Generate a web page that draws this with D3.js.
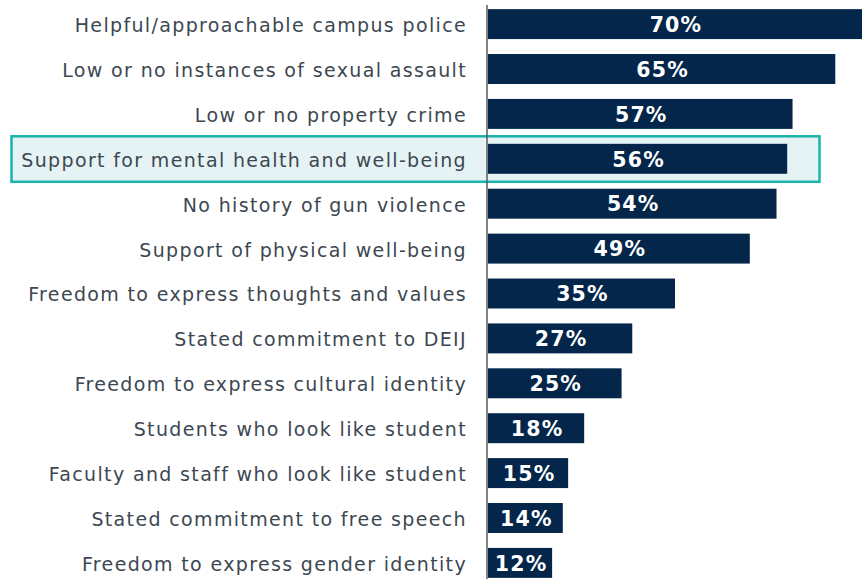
<!DOCTYPE html>
<html>
<head>
<meta charset="utf-8">
<script src="https://cdn.jsdelivr.net/npm/d3@7"></script>
<style>
  html, body { margin: 0; padding: 0; background: #ffffff; }
  svg { display: block; }
</style>
</head>
<body>
<svg id="chart" width="866" height="579"></svg>
<script>
// Campus safety factors and share of respondents selecting each
const categories = [
  "Helpful/approachable campus police",
  "Low or no instances of sexual assault",
  "Low or no property crime",
  "Support for mental health and well-being",
  "No history of gun violence",
  "Support of physical well-being",
  "Freedom to express thoughts and values",
  "Stated commitment to DEIJ",
  "Freedom to express cultural identity",
  "Students who look like student",
  "Faculty and staff who look like student",
  "Stated commitment to free speech",
  "Freedom to express gender identity"
];
const values = [70, 65, 57, 56, 54, 49, 35, 27, 25, 18, 15, 14, 12];
const highlighted = ["Support for mental health and well-being"];

const svg = d3.select("#chart");
const width = 866, height = 579;
const axisX = 487;

const x = d3.scaleLinear().domain([0, 70]).range([axisX + 1, 862]);
const y = d3.scaleBand()
  .domain(categories)
  .range([1.5, 585.5])
  .paddingInner(0.333)
  .paddingOuter(0.17);

// highlight panel behind the emphasised row
const hl = svg.append("g");
highlighted.forEach(c => {
  const cy = y(c) + y.bandwidth() / 2;
  hl.append("rect")
    .attr("x", 11.5)
    .attr("y", cy - 22.5)
    .attr("width", 808)
    .attr("height", 45.5)
    .attr("fill", "#e5f3f4")
    .attr("stroke", "#19b3ad")
    .attr("stroke-width", 2.5);
});

// bars
svg.append("g").selectAll("rect")
  .data(categories)
  .join("rect")
  .attr("x", x(0))
  .attr("y", d => y(d))
  .attr("width", (d, i) => x(values[i]) - x(0))
  .attr("height", y.bandwidth())
  .attr("fill", "#03264a");

// value labels inside bars
svg.append("g").selectAll("text")
  .data(categories)
  .join("text")
  .attr("x", (d, i) => (x(0) + x(values[i])) / 2 + 1)
  .attr("y", d => y(d) + y.bandwidth() / 2)
  .attr("dy", "0.38em")
  .attr("text-anchor", "middle")
  .attr("fill", "#ffffff")
  .attr("font-family", "DejaVu Sans, Verdana, sans-serif")
  .attr("font-weight", "bold")
  .attr("font-size", 20.5)
  .attr("letter-spacing", 1.2)
  .text((d, i) => values[i] + "%");

// category axis on the left
const axis = d3.axisLeft(y).tickSize(0).tickPadding(20);
const gAxis = svg.append("g")
  .attr("transform", `translate(${axisX},0)`)
  .call(axis);
gAxis.select(".domain").remove();
gAxis.selectAll("text")
  .attr("dy", "0.42em")
  .attr("fill", "#3d4752")
  .attr("font-family", "DejaVu Sans, Verdana, sans-serif")
  .attr("font-size", 19)
  .attr("letter-spacing", 1.35);

// vertical baseline
svg.append("line")
  .attr("x1", axisX).attr("x2", axisX)
  .attr("y1", 5).attr("y2", height)
  .attr("stroke", "#5a5a5a")
  .attr("stroke-width", 1.5);
</script>
</body>
</html>
